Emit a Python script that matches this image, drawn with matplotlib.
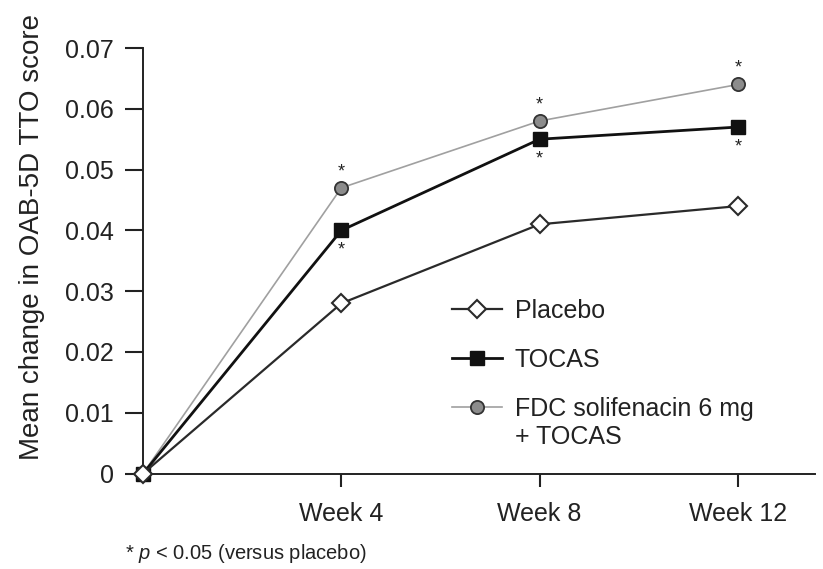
import matplotlib
matplotlib.use("Agg")
import matplotlib.pyplot as plt

plt.rcParams['font.family'] = ['Liberation Sans', 'DejaVu Sans']
plt.rcParams['mathtext.fontset'] = 'custom'
plt.rcParams['mathtext.rm'] = 'Liberation Sans'
plt.rcParams['mathtext.it'] = 'Liberation Sans:italic'

# Data
weeks = [0, 4, 8, 12]
week_labels = ["Week 4", "Week 8", "Week 12"]
placebo = [0, 0.028, 0.041, 0.044]
tocas = [0, 0.040, 0.055, 0.057]
fdc = [0, 0.047, 0.058, 0.064]
# significance flags (p < 0.05 versus placebo)
tocas_sig = [False, True, True, True]
fdc_sig = [False, True, True, True]
yticks = [0, 0.01, 0.02, 0.03, 0.04, 0.05, 0.06, 0.07]

TXT = '#222222'

fig = plt.figure(figsize=(8.23, 5.69), dpi=100)
ax = fig.add_axes([0.1738, 0.1677, 0.8162, 0.7479])

ax.plot(weeks, fdc, color='#a0a0a0', lw=1.2, marker='o', ms=9.5,
        mfc='#8c8c8c', mec='#333333', mew=1.3, clip_on=False, zorder=3,
        label="FDC solifenacin 6 mg")
ax.plot(weeks, tocas, color='#111111', lw=2.0, marker='s', ms=10.5,
        mfc='#111111', mec='#111111', clip_on=False, zorder=4, label="TOCAS")
ax.plot(weeks, placebo, color='#2a2a2a', lw=1.6, marker='D', ms=9,
        mfc='white', mec='#2a2a2a', mew=1.5, clip_on=False, zorder=5,
        label="Placebo")

for x, y, s in zip(weeks, fdc, fdc_sig):
    if s:
        ax.annotate("*", (x, y), xytext=(0, 5.5), textcoords='offset points',
                    ha='center', va='bottom', fontsize=13, color=TXT)
for x, y, s in zip(weeks, tocas, tocas_sig):
    if s:
        ax.annotate("*", (x, y), xytext=(0, -8), textcoords='offset points',
                    ha='center', va='top', fontsize=13, color=TXT)

ax.set_xlim(0, 13.55)
ax.set_ylim(0, 0.07)
ax.set_xticks(weeks[1:])
ax.set_xticklabels(week_labels)
ax.set_yticks(yticks)
ax.set_yticklabels(["0" if v == 0 else f"{v:.2f}" for v in yticks])

for side in ('top', 'right'):
    ax.spines[side].set_visible(False)
for side in ('left', 'bottom'):
    ax.spines[side].set_linewidth(1.4)
    ax.spines[side].set_color(TXT)

ax.tick_params(axis='y', length=13, width=1.5, pad=8, labelsize=18,
               colors=TXT)
ax.tick_params(axis='x', length=9.5, width=1.5, pad=11, labelsize=18,
               colors=TXT)

ax.set_ylabel("Mean change in OAB-5D TTO score", fontsize=20, color=TXT,
              va='center')
ax.yaxis.set_label_coords(-0.166, 0.556)

handles, labels = ax.get_legend_handles_labels()
order = [2, 1, 0]
leg = ax.legend([handles[i] for i in order], [labels[i] for i in order],
                loc='upper left', bbox_to_anchor=(0.46, 0.411), frameon=False,
                fontsize=18, handlelength=2.0, handletextpad=0.5,
                labelspacing=1.0, borderpad=0, borderaxespad=0)
for t in leg.get_texts():
    t.set_color(TXT)
# second line of the combination-therapy label, drawn after the legend
ax.annotate("+ TOCAS", xy=(0, 0), xycoords=leg.get_texts()[2],
            xytext=(0, -3), textcoords='offset points', ha='left', va='top',
            fontsize=18, color=TXT, zorder=10, annotation_clip=False)

fig.text(0.152, 0.028, r"* $\it{p}$ < 0.05 (versus placebo)", fontsize=14.5,
         color=TXT, va='center', ha='left')

fig.savefig("out.png", dpi=100)
